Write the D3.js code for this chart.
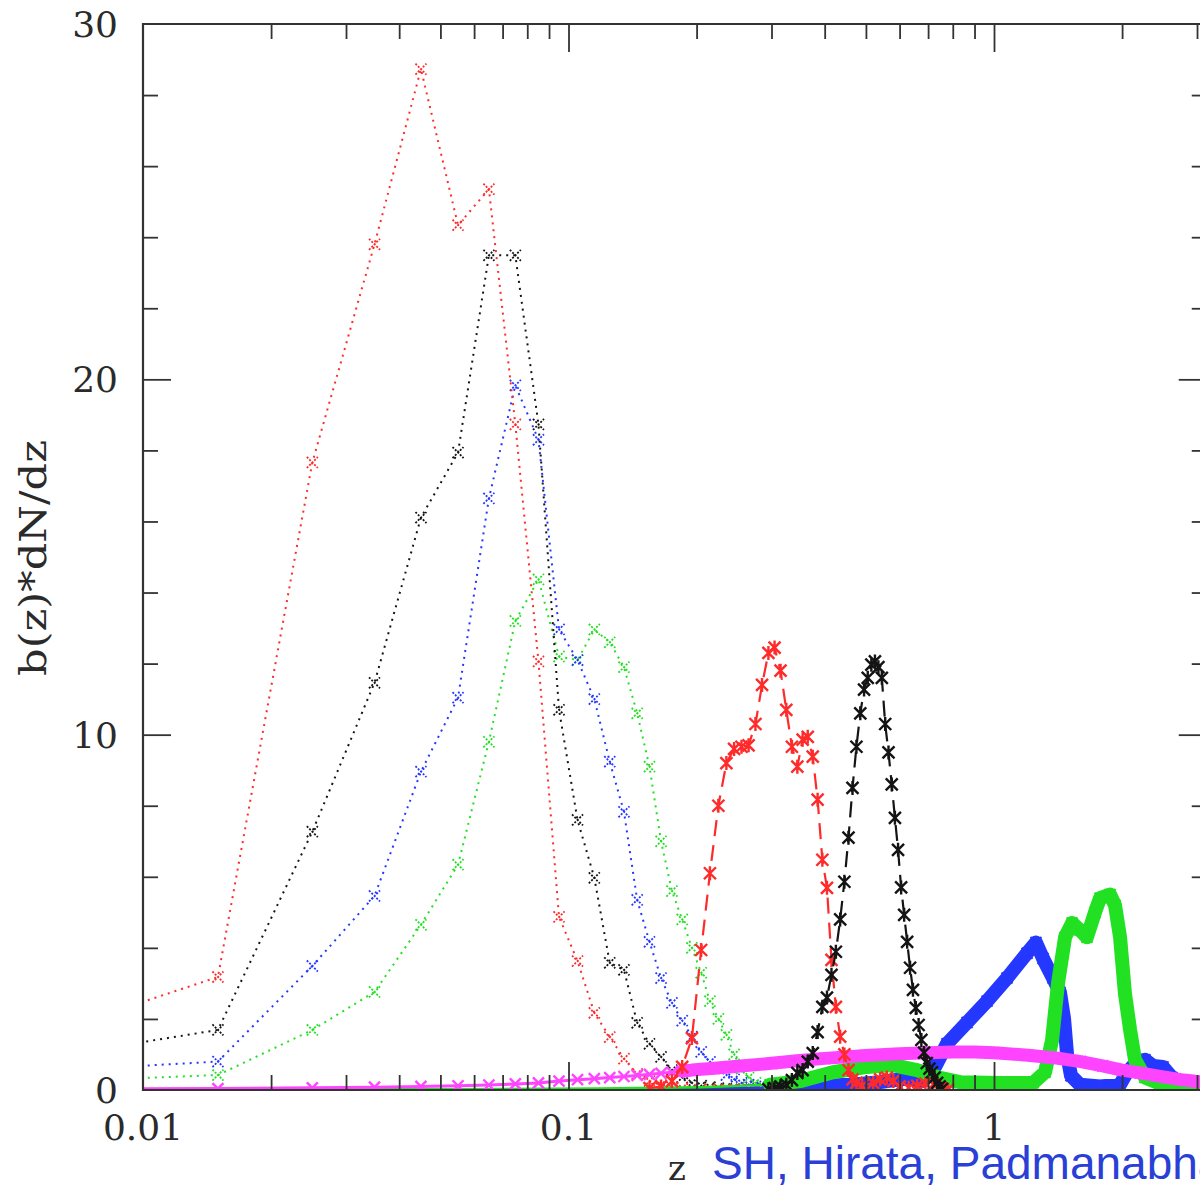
<!DOCTYPE html>
<html>
<head>
<meta charset="utf-8">
<script src="https://cdn.jsdelivr.net/npm/d3@7"></script>
<style>
  html, body { margin: 0; padding: 0; background: #fff; overflow: hidden; }
  svg { display: block; }
</style>
</head>
<body>
<svg id="chart" width="1200" height="1187"></svg>
<script>
// ---------------- DATA ----------------
// low-z bins (dotted lines with markers)
const zDot = [0.005,0.015,0.025,0.035,0.045,0.055,0.065,0.075,0.085,0.095,0.105,0.115,0.125,0.135,0.145,0.155,0.165,0.175,0.185,0.195,0.205,0.215,0.225,0.235,0.245,0.255,0.265,0.275,0.285,0.295];
const redDotted   = [1.29,3.18,17.66,23.8,28.73,24.34,25.35,18.73,12.06,4.87,3.63,2.17,1.49,0.88,0.45,0.25,0.14,0.08,0.05,0.03,0.02,0.02,0.01,0.01,0.01,0.01,0.01,0.01,0.01,0.01];
const blackDotted = [0.77,1.69,7.27,11.46,16.11,17.94,23.49,23.49,18.73,10.7,7.6,5.97,3.58,3.38,1.89,1.3,0.93,0.56,0.35,0.2,0.12,0.08,0.05,0.03,0.02,0.02,0.01,0.01,0.01,0.01];
const blueDotted  = [0.48,0.8,3.49,5.46,8.96,11.04,16.65,19.83,18.3,12.96,12.1,11.0,9.24,7.83,5.35,4.17,3.15,2.45,1.95,1.5,1.07,0.79,0.6,0.42,0.3,0.2,0.15,0.1,0.07,0.05];
const greenDotted = [0.2,0.42,1.69,2.76,4.65,6.34,9.8,13.2,14.37,12.2,12.1,12.96,12.6,11.9,10.6,9.1,7.0,5.6,4.8,4.0,3.3,2.5,2.0,1.55,1.0,0.6,0.35,0.2,0.12,0.08];

// mid-z bins (dashed lines with markers)
const zRedDashed = [0.155,0.165,0.175,0.185,0.195,0.205,0.215,0.225,0.235,0.245,0.255,0.265,0.275,0.285,0.295,0.305,0.315,0.325,0.335,0.345,0.355,0.365,0.375,0.385,0.395,0.405,0.415,0.425,0.435,0.445,0.455,0.465,0.475,0.49,0.52,0.54,0.56,0.58,0.6,0.63,0.66,0.69,0.72,0.75,0.78];
const redDashed  = [0.05,0.1,0.25,0.65,1.46,3.94,6.1,8.0,9.2,9.6,9.66,9.7,10.3,11.4,12.3,12.45,11.8,10.7,9.66,9.1,9.86,9.94,9.38,8.17,6.48,5.69,3.66,2.34,1.5,1.0,0.56,0.3,0.2,0.12,0.2,0.3,0.35,0.25,0.1,0.06,0.12,0.18,0.16,0.06,0.01];
const zBlackDashed = [0.295,0.305,0.315,0.325,0.335,0.345,0.355,0.365,0.375,0.385,0.395,0.405,0.415,0.425,0.435,0.445,0.455,0.465,0.475,0.485,0.495,0.505,0.515,0.525,0.535,0.545,0.555,0.565,0.575,0.585,0.595,0.605,0.615,0.625,0.635,0.645,0.655,0.665,0.675,0.685,0.695,0.705,0.715,0.725,0.735,0.745,0.755];
const blackDashed = [0.02,0.05,0.1,0.15,0.28,0.48,0.56,0.8,1.04,1.63,2.34,2.6,3.24,3.89,4.8,5.86,7.1,8.5,9.66,10.6,11.27,11.6,11.97,12.06,11.9,11.6,10.3,9.5,8.6,7.66,6.76,5.7,4.93,4.17,3.44,2.82,2.31,1.83,1.41,1.05,0.76,0.6,0.5,0.35,0.2,0.1,0.03];

// high-z samples (dense markers)
const zBlueDense = [0.0075,0.0402,0.1186,0.2037,0.300,0.350,0.4587,0.540,0.601,0.635,0.6773,0.7267,0.7754,0.8643,0.963,1.073,1.196,1.255,1.304,1.376,1.429,1.461,1.485,1.517,1.592,1.775,1.978,2.054,2.168,2.264,2.364,2.496,2.620,2.811,3.3];
const blueDense  = [0.0,0.0,0.02,0.04,0.06,0.1,0.15,0.22,0.3,0.33,0.25,0.65,1.3,1.9,2.5,3.15,3.85,4.15,3.7,3.15,2.75,2.0,1.0,0.4,0.15,0.1,0.15,0.5,0.8,0.85,0.68,0.65,0.35,0.1,0.0];
const zGreenDense = [0.0075,0.0402,0.1186,0.2037,0.2977,0.350,0.4185,0.5029,0.5788,0.6592,0.7468,0.832,1.033,1.235,1.318,1.369,1.414,1.469,1.526,1.592,1.654,1.727,1.775,1.874,1.925,1.978,2.032,2.088,2.145,2.264,2.455,3.3];
const greenDense  = [0.0,0.02,0.04,0.08,0.15,0.25,0.5,0.65,0.7,0.56,0.34,0.22,0.2,0.2,0.5,1.4,3.0,4.3,4.7,4.5,4.3,5.0,5.4,5.5,5.2,4.3,2.7,1.7,0.85,0.35,0.18,0.12];
const zMagenta = [0.005,0.015,0.025,0.035,0.045,0.055,0.065,0.075,0.085,0.095,0.105,0.115,0.125,0.135,0.145,0.155,0.165,0.175,0.185,0.195,0.22,0.25,0.3,0.35,0.4,0.5,0.6,0.7,0.8,0.9,1.0,1.2,1.4,1.6,1.8,2.0,2.2,2.5,2.8,3.2];
const magenta  = [0.02,0.04,0.06,0.08,0.1,0.12,0.14,0.17,0.2,0.25,0.29,0.32,0.35,0.38,0.41,0.44,0.47,0.5,0.53,0.56,0.61,0.67,0.75,0.83,0.89,0.97,1.02,1.05,1.07,1.07,1.05,0.98,0.9,0.8,0.68,0.56,0.48,0.37,0.28,0.2];

const yTickValues = [0, 10, 20, 30];
const xTickLabels = ["0.01", "0.1", "1"];
const xTickValues = [0.01, 0.1, 1];
const yLabel = "b(z)*dN/dz";
const xLabel = "z";
const creditText = "SH, Hirata, Padmanabhan";

// ---------------- LAYOUT ----------------
const svg = d3.select("#chart");
const pL = 143, pT = 24, pB = 1090;
const decade = 425.5;
const pR = pL + decade * 2.5;

const x = d3.scaleLog().domain([0.01, Math.pow(10, 0.5)]).range([pL, pR]);
const y = d3.scaleLinear().domain([0, 30]).range([pB, pT]);

svg.append("defs").append("clipPath").attr("id", "plotclip")
  .append("rect").attr("x", pL).attr("y", pT).attr("width", pR - pL).attr("height", pB - pT);

const plot = svg.append("g").attr("clip-path", "url(#plotclip)");

const RED = "#ff2a2a", BLACK = "#141414", BLUE = "#2438ff", GREEN = "#22e022", MAG = "#ff44ff";

function pts(zs, vs) { return zs.map((z, i) => ({ z: z, v: vs[i] })); }
const line = d3.line().x(d => x(d.z)).y(d => y(d.v));

const xPath = "M-5.5,-5.5L5.5,5.5M-5.5,5.5L5.5,-5.5";
const starPath = "M-6,-6L6,6M-6,6L6,-6M0,-7L0,7";

function drawSeries(data, opt) {
  const g = plot.append("g");
  if (opt.band) {
    g.append("path").datum(data.filter(d => d.z >= (opt.bandFrom || 0)))
      .attr("d", line).attr("fill", "none").attr("stroke", opt.color)
      .attr("stroke-width", opt.band).attr("stroke-linejoin", "round").attr("stroke-linecap", "round");
  }
  g.append("path").datum(data).attr("d", line)
    .attr("fill", "none").attr("stroke", opt.color)
    .attr("stroke-width", opt.width)
    .attr("stroke-dasharray", opt.dash || null)
    .attr("stroke-linejoin", "round");
  if (opt.marker) {
    g.selectAll("path.m").data(data.filter(d => d.z >= 0.01 && d.z >= (opt.markFrom || 0)))
      .enter().append("path").attr("class", "m")
      .attr("d", opt.marker)
      .attr("transform", d => `translate(${x(d.z)},${y(d.v)})`)
      .attr("fill", "none").attr("stroke", opt.color)
      .attr("stroke-width", opt.mwidth)
      .attr("stroke-dasharray", opt.mdash || null);
  }
}

// dotted low-z bins
drawSeries(pts(zDot, greenDotted), { color: GREEN, width: 2, dash: "2 5", marker: xPath, mwidth: 1.8, mdash: "2 1.5" });
drawSeries(pts(zDot, blueDotted),  { color: BLUE,  width: 2, dash: "2 5", marker: xPath, mwidth: 1.8, mdash: "2 1.5" });
drawSeries(pts(zDot, blackDotted), { color: BLACK, width: 2, dash: "2 5", marker: xPath, mwidth: 1.8, mdash: "2 1.5" });
drawSeries(pts(zDot, redDotted),   { color: RED,   width: 2, dash: "2 5", marker: xPath, mwidth: 1.8, mdash: "2 1.5" });

// dense high-z samples
drawSeries(pts(zBlueDense, blueDense),   { color: BLUE,  width: 2.5, band: 14, bandFrom: 0.3, marker: xPath, mwidth: 2, markFrom: 0.3 });
drawSeries(pts(zGreenDense, greenDense), { color: GREEN, width: 2.5, band: 14, bandFrom: 0.29, marker: xPath, mwidth: 2, markFrom: 0.29 });
drawSeries(pts(zMagenta, magenta),       { color: MAG,   width: 3, band: 13, bandFrom: 0.185, marker: xPath, mwidth: 2.4 });

// dashed mid-z bins
drawSeries(pts(zRedDashed, redDashed),     { color: RED,   width: 2.2, dash: "16 9", marker: starPath, mwidth: 2.4 });
drawSeries(pts(zBlackDashed, blackDashed), { color: BLACK, width: 2.2, dash: "16 9", marker: starPath, mwidth: 2.4 });

// ---------------- AXES / FRAME ----------------
const axisColor = "#333";
const frame = svg.append("g").attr("stroke", axisColor).attr("fill", "none");
frame.append("line").attr("x1", pL).attr("x2", pL).attr("y1", pT - 1).attr("y2", pB + 1).attr("stroke-width", 2.2);
frame.append("line").attr("x1", pL).attr("x2", pR).attr("y1", pT).attr("y2", pT).attr("stroke-width", 2.2);
frame.append("line").attr("x1", pL).attr("x2", pR).attr("y1", pB).attr("y2", pB).attr("stroke-width", 2.2);
frame.append("line").attr("x1", pR).attr("x2", pR).attr("y1", pT).attr("y2", pB).attr("stroke-width", 2.2);

// log ticks on top & bottom via d3 axes (tick lines only)
const xTicksAll = x.ticks().filter(t => t > 0.01 * 1.0001);
const isMajor = t => Math.abs(Math.log10(t) - Math.round(Math.log10(t))) < 1e-6;

const bottomAxis = d3.axisTop(x).tickValues(xTicksAll).tickFormat("").tickSizeOuter(0).tickSize(15);
const gb = svg.append("g").attr("transform", `translate(0,${pB})`).call(bottomAxis);
gb.select(".domain").remove();
gb.selectAll(".tick line").attr("stroke", axisColor).attr("stroke-width", 1.8)
  .attr("y2", d => isMajor(d) ? -28 : -15);

const topAxis = d3.axisBottom(x).tickValues(xTicksAll).tickFormat("").tickSizeOuter(0).tickSize(15);
const gt = svg.append("g").attr("transform", `translate(0,${pT})`).call(topAxis);
gt.select(".domain").remove();
gt.selectAll(".tick line").attr("stroke", axisColor).attr("stroke-width", 1.8)
  .attr("y2", d => isMajor(d) ? 28 : 15);

// y ticks left & right
const yTicksAll = d3.range(2, 30, 2);
const leftAxis = d3.axisRight(y).tickValues(yTicksAll).tickFormat("").tickSizeOuter(0).tickSize(15);
const gl = svg.append("g").attr("transform", `translate(${pL},0)`).call(leftAxis);
gl.select(".domain").remove();
gl.selectAll(".tick line").attr("stroke", axisColor).attr("stroke-width", 1.8)
  .attr("x2", d => d % 10 === 0 ? 28 : 15);
const rightAxis = d3.axisLeft(y).tickValues(yTicksAll).tickFormat("").tickSizeOuter(0).tickSize(15);
const gr = svg.append("g").attr("transform", `translate(${pR},0)`).call(rightAxis);
gr.select(".domain").remove();
gr.selectAll(".tick line").attr("stroke", axisColor).attr("stroke-width", 1.8)
  .attr("x2", d => d % 10 === 0 ? -28 : -15);

// tick labels
const labelFont = "'DejaVu Serif', 'Liberation Serif', serif";
svg.append("g").selectAll("text").data(yTickValues).enter().append("text")
  .attr("x", 118).attr("y", d => y(d) + 13)
  .attr("text-anchor", "end")
  .attr("font-family", labelFont).attr("font-size", 36).attr("fill", "#2a2a2a")
  .text(d => d);

svg.append("g").selectAll("text").data(xTickValues).enter().append("text")
  .attr("x", d => x(d)).attr("y", 1140)
  .attr("text-anchor", "middle")
  .attr("font-family", labelFont).attr("font-size", 36).attr("fill", "#2a2a2a")
  .text((d, i) => xTickLabels[i]);

// axis labels
svg.append("text")
  .attr("transform", "translate(46,558) rotate(-90)")
  .attr("text-anchor", "middle")
  .attr("font-family", labelFont).attr("font-size", 38).attr("fill", "#2a2a2a")
  .attr("textLength", 236).attr("lengthAdjust", "spacingAndGlyphs")
  .text(yLabel);

svg.append("text")
  .attr("x", 677).attr("y", 1180).attr("text-anchor", "middle")
  .attr("font-family", labelFont).attr("font-size", 34).attr("fill", "#2a2a2a")
  .text(xLabel);

svg.append("text")
  .attr("x", 712).attr("y", 1179)
  .attr("font-family", "'Liberation Sans', Arial, sans-serif").attr("font-size", 46)
  .attr("fill", "#2a3fd6")
  .text(creditText);
</script>
</body>
</html>
